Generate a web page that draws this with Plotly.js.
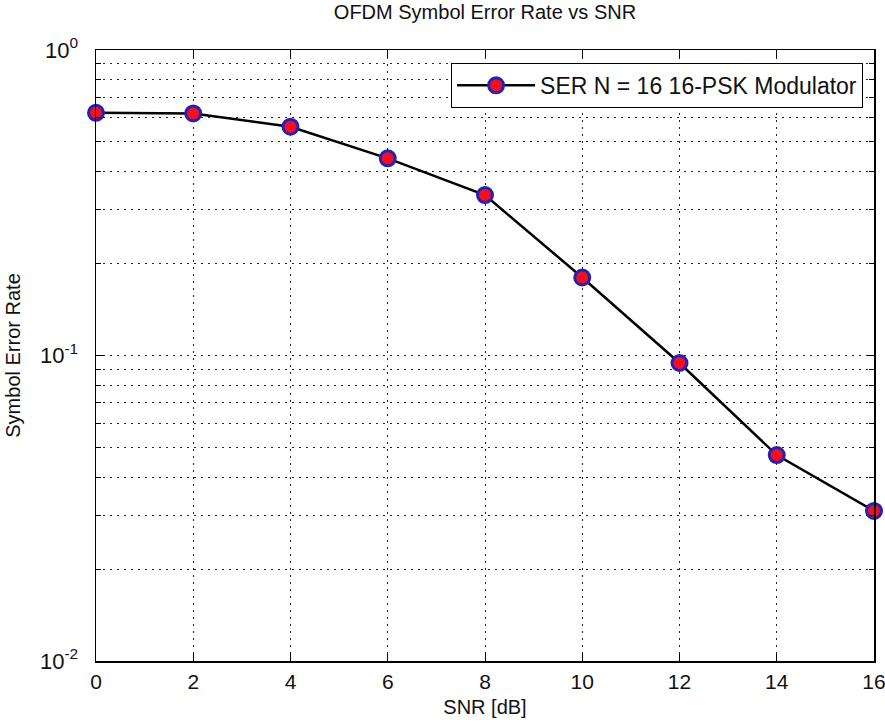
<!DOCTYPE html>
<html>
<head>
<meta charset="utf-8">
<script src="https://cdn.plot.ly/plotly-3.0.1.min.js"></script>
<style>html,body{margin:0;padding:0;background:#fff;}#chart{width:885px;height:723px;}</style>
</head>
<body>
<div id="chart"></div>
<script>
// Data
const snrDb = [0, 2, 4, 6, 8, 10, 12, 14, 16];
const ser = [0.623, 0.620, 0.561, 0.442, 0.335, 0.180, 0.0945, 0.0472, 0.031];
const seriesName = 'SER N = 16 16-PSK Modulator';
const xTickVals = [0, 2, 4, 6, 8, 10, 12, 14, 16];
const xTickText = ['0', '2', '4', '6', '8', '10', '12', '14', '16'];
const yTickVals = [0.01, 0.1, 1];
const yTickText = ['10<sup>-2</sup>', '10<sup>-1</sup>', '10<sup>0</sup>'];

// minor log grid positions 2..9 within each decade
const yMinor = [];
for (let d = 0; d < yTickVals.length - 1; d++) {
  for (let k = 2; k <= 9; k++) yMinor.push(yTickVals[d] * k);
}

const FONT = 'Arial, "Liberation Sans", sans-serif';
const gridDash = '2px,5px';

const trace = {
  x: snrDb,
  y: ser,
  type: 'scatter',
  mode: 'lines+markers',
  name: seriesName,
  cliponaxis: false,
  line: {color: '#000000', width: 2.5},
  marker: {size: 15, color: '#ee1122', line: {color: '#2a1fb0', width: 3}}
};

const layout = {
  width: 885,
  height: 723,
  paper_bgcolor: '#ffffff',
  plot_bgcolor: '#ffffff',
  margin: {l: 96, r: 11, t: 50, b: 62},
  font: {family: FONT, size: 20, color: '#111'},
  title: {text: 'OFDM Symbol Error Rate vs SNR', font: {family: FONT, size: 20, color: '#111'}, x: 0.548, xanchor: 'center', y: 0.983, yanchor: 'middle'},
  showlegend: true,
  legend: {
    x: 0.986, y: 0.979, xanchor: 'right', yanchor: 'top',
    bgcolor: '#ffffff', bordercolor: '#000000', borderwidth: 1,
    font: {family: FONT, size: 23, color: '#111'},
    itemwidth: 78
  },
  xaxis: {
    range: [0, 16.0001],
    tickmode: 'array',
    tickvals: xTickVals,
    ticktext: xTickText,
    ticklabeloverflow: 'allow',
    ticks: 'inside', ticklen: 7, tickcolor: '#000', tickwidth: 1,
    showline: true, linecolor: '#000', linewidth: 1.5, mirror: 'ticks',
    showgrid: true, gridcolor: '#222', gridwidth: 1, griddash: gridDash,
    zeroline: false,
    tickfont: {family: FONT, size: 21, color: '#111'},
    ticklabelstandoff: 1,
    title: {text: 'SNR [dB]', font: {family: FONT, size: 20, color: '#111'}, standoff: 8}
  },
  yaxis: {
    type: 'log',
    range: [-2, 0],
    tickmode: 'array',
    tickvals: yTickVals,
    ticktext: yTickText,
    ticks: 'inside', ticklen: 7, tickcolor: '#000', tickwidth: 1,
    showline: true, linecolor: '#000', linewidth: 1.5, mirror: 'ticks',
    showgrid: true, gridcolor: '#222', gridwidth: 1, griddash: gridDash,
    zeroline: false,
    tickfont: {family: FONT, size: 22, color: '#111'},
    ticklabelstandoff: 12,
    minor: {
      tickmode: 'array', tickvals: yMinor,
      ticks: 'inside', ticklen: 5, tickcolor: '#000',
      showgrid: true, gridcolor: '#222', gridwidth: 1, griddash: gridDash
    },
    title: {text: 'Symbol Error Rate', font: {family: FONT, size: 20, color: '#111'}, standoff: 14}
  }
};

Plotly.newPlot('chart', [trace], layout, {displayModeBar: false, staticPlot: true});
</script>
</body>
</html>
